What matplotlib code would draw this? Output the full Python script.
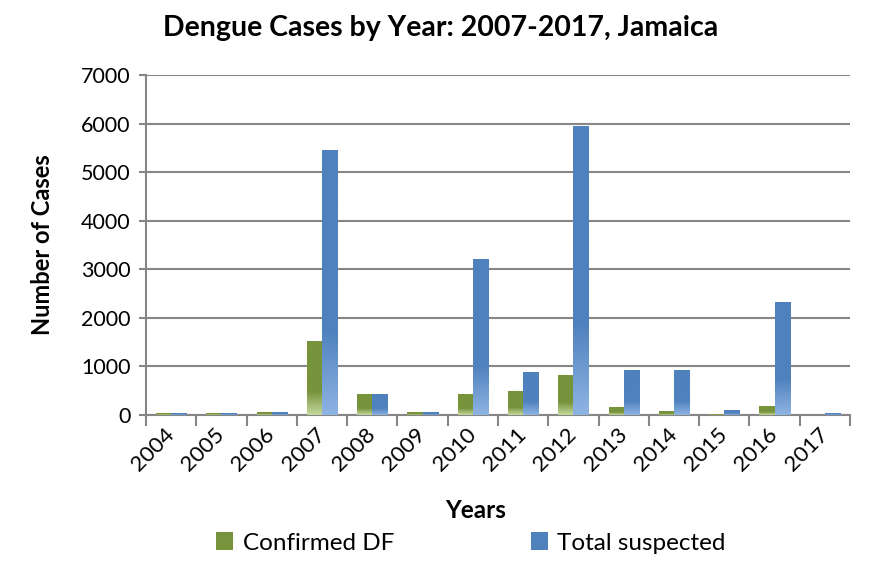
import numpy as np
import matplotlib
matplotlib.use("Agg")
import matplotlib.pyplot as plt
from matplotlib.colors import LinearSegmentedColormap
from matplotlib.patches import Patch

years = ["2004", "2005", "2006", "2007", "2008", "2009", "2010", "2011",
         "2012", "2013", "2014", "2015", "2016", "2017"]
confirmed_df = [45, 45, 65, 1520, 430, 60, 430, 490, 820, 165, 82, 20, 190, 0]
total_suspected = [45, 45, 65, 5450, 430, 60, 3210, 885, 5950, 926, 926, 110, 2330, 45]
y_ticks = [0, 1000, 2000, 3000, 4000, 5000, 6000, 7000]

plt.rcParams['font.family'] = ['Lato', 'DejaVu Sans']

fig = plt.figure(figsize=(8.89, 5.74), dpi=100)
ax = fig.add_axes([146/889, 1-415/574, (850-146)/889, (415-75)/574])

x = np.arange(len(years))
w = 0.3
green, green_light = "#77933C", "#C5D99E"
blue, blue_light = "#4F81BD", "#8EB4E3"

ax.set_xlim(-0.5, len(years) - 0.5)
ax.set_ylim(0, 7000)

def gradient_bars(bars, dark, light):
    cmap = LinearSegmentedColormap.from_list("g", [(0, light), (0.32, dark), (1, dark)])
    grad = np.linspace(1, 0, 256).reshape(-1, 1)
    for b in bars:
        h = b.get_height()
        if h <= 0:
            continue
        x0 = b.get_x()
        im = ax.imshow(grad, extent=[x0, x0 + b.get_width(), 0, h], aspect='auto',
                       cmap=cmap, vmin=0, vmax=1, zorder=3, origin='upper',
                       interpolation='bilinear')
        im.set_clip_path(b)

b1 = ax.bar(x - w/2, confirmed_df, width=w, color=green, zorder=3, linewidth=0)
b2 = ax.bar(x + w/2, total_suspected, width=w, color=blue, zorder=3, linewidth=0)
gradient_bars(b1, green, green_light)
gradient_bars(b2, blue, blue_light)
ax.set_xlim(-0.5, len(years) - 0.5)
ax.set_ylim(0, 7000)

grid_c = "#868686"
ax.set_yticks(y_ticks)
ax.set_yticklabels([str(t) for t in y_ticks], fontsize=15.5)
ax.yaxis.grid(True, color=grid_c, linewidth=1.5, zorder=0)
ax.set_axisbelow(True)

ax.set_xticks(np.arange(len(years) + 1) - 0.5, minor=False)
ax.set_xticklabels([])
ax.set_xticks(x, minor=True)
ax.set_xticklabels(years, minor=True, rotation=45, ha='right', va='center',
                   rotation_mode='anchor', fontsize=16)
ax.tick_params(axis='x', which='minor', length=0, pad=12)
ax.tick_params(axis='x', which='major', length=8, width=1.5, color=grid_c, direction='out')
ax.tick_params(axis='y', length=5, width=1.5, color=grid_c, pad=6)

for s in ['top', 'right']:
    ax.spines[s].set_visible(False)
for s in ['left', 'bottom']:
    ax.spines[s].set_color(grid_c)
    ax.spines[s].set_linewidth(1.5)

fig.text(43/889, 1-245/574, "Number of Cases", fontsize=17, fontweight='bold',
         ha='center', va='center', rotation=90)
fig.text(476/889, 1-511/574, "Years", fontsize=17.5, fontweight='bold', ha='center', va='center')
fig.text(441/889, 1-28/574, "Dengue Cases by Year: 2007-2017, Jamaica", fontsize=20.5,
         fontweight='bold', ha='center', va='center')

handles = [Patch(facecolor=green, label="Confirmed DF"),
           Patch(facecolor=blue, label="Total suspected")]
fig.legend(handles=handles, loc='center', bbox_to_anchor=(471/889, 1-543/574), ncol=2,
           frameon=False, fontsize=17.5, handlelength=0.7, handleheight=0.7,
           handletextpad=0.4, columnspacing=5.6)

fig.savefig("out.png", dpi=100)
